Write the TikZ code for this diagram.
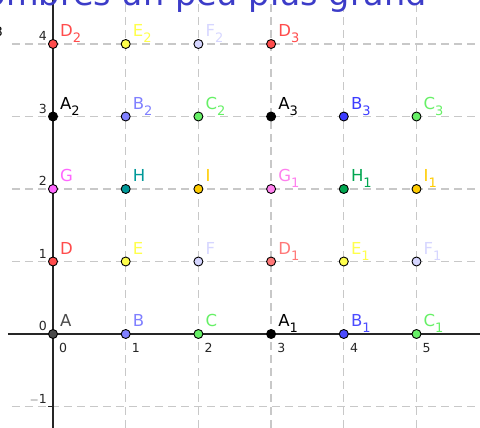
\documentclass[tikz,border=0pt]{standalone}
\usepackage{fontspec}
\setmainfont{DejaVu Sans}
\usepackage{xcolor}
\usepackage{tikz}

\definecolor{gridgray}{HTML}{C8C8C8}
\definecolor{titleblue}{HTML}{3C3CC8}
\definecolor{cA}{HTML}{4A4A4A}
\definecolor{cB}{HTML}{8080FF}
\definecolor{cBb}{HTML}{4C4CFF}
\definecolor{cBc}{HTML}{3C3CFF}
\definecolor{cC}{HTML}{66F066}
\definecolor{cD}{HTML}{FF4C4C}
\definecolor{cDd}{HTML}{FF7878}
\definecolor{cE}{HTML}{FFFF4C}
\definecolor{cF}{HTML}{D6D6FF}
\definecolor{cG}{HTML}{FF66FF}
\definecolor{cGg}{HTML}{FF80EE}
\definecolor{cH}{HTML}{009999}
\definecolor{cHh}{HTML}{00A650}
\definecolor{cI}{HTML}{FFCC00}

\newcommand{\lblsub}[1]{\raisebox{-6pt}{\fontsize{13}{13}\selectfont #1}}

\begin{document}
\begin{tikzpicture}[x=72.7pt, y=72.5pt,
    gridline/.style={draw=gridgray, line width=1.3pt, dash pattern=on 8pt off 5pt},
    axisline/.style={draw=black!85, line width=1.6pt},
    ticklbl/.style={font=\fontsize{12.5}{12.5}\selectfont, text=black!85, inner sep=0pt},
    pt/.style={circle, draw=black, line width=0.9pt, inner sep=0pt, minimum size=9pt},
    lbl/.style={font=\fontsize{16.5}{16.5}\selectfont, inner sep=0pt, anchor=base west}
  ]
  \useasboundingbox (-53pt,-94pt) rectangle (427pt,334pt);
  \clip (-53pt,-94pt) rectangle (427pt,334pt);

  % grid
  \foreach \x in {1,...,5} {
      \draw[gridline] (\x,-94pt) -- (\x,334pt);
    }
  \foreach \y in {-1,1,2,3,4} {
      \draw[gridline] (-41pt,\y) -- (427pt,\y);
    }

  % axes
  \draw[axisline] (-45pt,0) -- (427pt,0);
  \draw[axisline] (0,-94pt) -- (0,334pt);
  \foreach \y in {-1,...,4} {
      \draw[axisline] (-5pt,\y) -- (0,\y);
    }
  \foreach \x in {0,...,5} {
      \node[ticklbl, anchor=north west] (xt\x) at ([shift={(6pt,-9pt)}]\x,0) {\x};
    }
  \foreach \y/\t in {-1/$-$1,0/0,1/1,2/2,3/3,4/4} {
      \node[ticklbl, anchor=base east] (yt\y) at ([shift={(-6pt,3pt)}]0,\y) {\t};
    }

  % points
  \foreach \nm/\x/\y/\lab/\col in {
      A/0/0/A/cA, B/1/0/B/cB, C/2/0/C/cC,
      A1/3/0/{A\lblsub{1}}/black, B1/4/0/{B\lblsub{1}}/cBb, C1/5/0/{C\lblsub{1}}/cC,
      D/0/1/D/cD, E/1/1/E/cE, F/2/1/F/cF,
      D1/3/1/{D\lblsub{1}}/cDd, E1/4/1/{E\lblsub{1}}/cE, F1/5/1/{F\lblsub{1}}/cF,
      G/0/2/G/cG, H/1/2/H/cH, I/2/2/I/cI,
      G1/3/2/{G\lblsub{1}}/cGg, H1/4/2/{H\lblsub{1}}/cHh, I1/5/2/{I\lblsub{1}}/cI,
      A2/0/3/{A\lblsub{2}}/black, B2/1/3/{B\lblsub{2}}/cB, C2/2/3/{C\lblsub{2}}/cC,
      A3/3/3/{A\lblsub{3}}/black, B3/4/3/{B\lblsub{3}}/cBc, C3/5/3/{C\lblsub{3}}/cC,
      D2/0/4/{D\lblsub{2}}/cD, E2/1/4/{E\lblsub{2}}/cE, F2/2/4/{F\lblsub{2}}/cF,
      D3/3/4/{D\lblsub{3}}/cD} {
      \node[pt, fill=\col] (\nm) at (\x,\y) {};
      \node[lbl, text=\col] (\nm-lbl) at ([shift={(7pt,7pt)}]\nm.center) {\lab};
    }

  % clipped texts at the top
  \node[font=\fontsize{33.5}{33.5}\selectfont, text=titleblue, inner sep=0pt,
    anchor=base east] (title) at (374pt,328pt) {nombres un peu plus grand};
  \node[font=\fontsize{13}{13}\selectfont, text=black, inner sep=0pt,
    anchor=east] (cut) at (-50pt,302pt) {3};
\end{tikzpicture}
\end{document}
